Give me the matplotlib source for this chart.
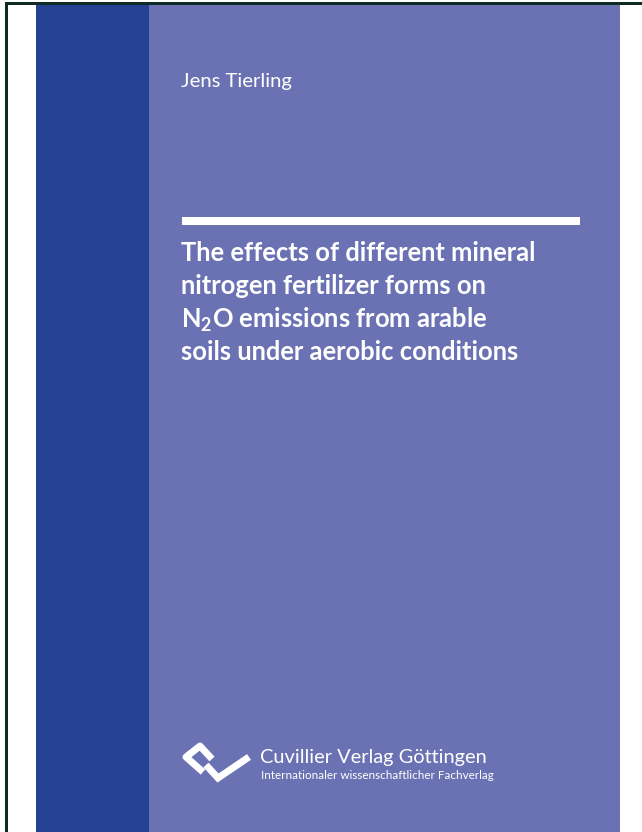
import matplotlib
matplotlib.use("Agg")
import matplotlib.pyplot as plt
from matplotlib.patches import Rectangle

plt.rcParams['font.family'] = ['Lato', 'DejaVu Sans']
plt.rcParams['mathtext.fontset'] = 'custom'
plt.rcParams['mathtext.rm'] = 'Lato:bold'
plt.rcParams['mathtext.bf'] = 'Lato:bold'

# cover content
author = "Jens Tierling"
title_lines = [
    "The effects of different mineral",
    "nitrogen fertilizer forms on",
    "N$_2$O emissions from arable",
    "soils under aerobic conditions",
]
publisher = "Cuvillier Verlag Göttingen"
publisher_sub = "Internationaler wissenschaftlicher Fachverlag"

dark_blue = "#254193"
light_blue = "#6A72B4"
frame_col = "#0E2B25"

W, H = 642, 832
fig = plt.figure(figsize=(W / 100, H / 100), dpi=100)
ax = fig.add_axes([0, 0, 1, 1])
ax.set_xlim(0, W)
ax.set_ylim(H, 0)
ax.axis("off")

# page frame (top + left edge)
ax.add_patch(Rectangle((5, 2), W - 5, 3, color=frame_col, lw=0))
ax.add_patch(Rectangle((5, 2), 2.5, H, color=frame_col, lw=0))

# colour panels
ax.add_patch(Rectangle((36, 5), 113, H, color=dark_blue, lw=0))
ax.add_patch(Rectangle((149, 5), 471, H, color=light_blue, lw=0))

# author
ax.text(181, 82, author, color="white", fontsize=14.6, va="center", ha="left")

# white rule
ax.add_patch(Rectangle((182, 217), 398, 8, color="white", lw=0))

# title
for i, line in enumerate(title_lines):
    ax.text(181, 261 + 33 * i, line, color="white", fontsize=18.4,
            fontweight="bold", va="baseline", ha="left")

# logo
ax.plot([212, 200, 186, 203], [759, 746, 757, 772], color="white", lw=5,
        solid_joinstyle="round", solid_capstyle="butt")
ax.plot([206, 218, 249], [765, 778, 757], color="white", lw=5,
        solid_joinstyle="miter", solid_capstyle="butt")

# publisher
ax.text(260, 763, publisher, color="white", fontsize=14.4, va="baseline", ha="left")
ax.text(261, 779, publisher_sub, color="white", fontsize=8.4, va="baseline", ha="left")

fig.savefig("out.png", dpi=100, facecolor="white")
